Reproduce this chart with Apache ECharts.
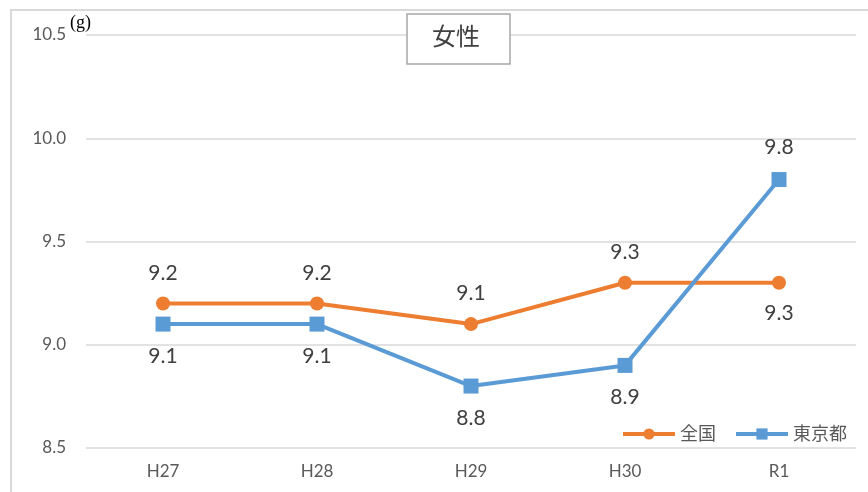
<!DOCTYPE html>
<html><head><meta charset="utf-8">
<script src="https://cdn.jsdelivr.net/npm/echarts@6/dist/echarts.min.js"></script>
<style>html,body{margin:0;padding:0;background:#fff}#c{width:868px;height:492px}</style>
</head><body><div id="c"></div>
<script>
const categories = ['H27','H28','H29','H30','R1'];
const zenkoku = [9.2, 9.2, 9.1, 9.3, 9.3];
const tokyo = [9.1, 9.1, 8.8, 8.9, 9.8];
const zenkokuLabelPos = ['top','top','top','top','bottom'];
const tokyoLabelPos = ['bottom','bottom','bottom','bottom','top'];
const yTicks = [8.5, 9.0, 9.5, 10.0, 10.5];

const chart = echarts.init(document.getElementById('c'));
const font = 'Lato, "Noto Sans CJK JP", sans-serif';
function mk(vals, pos) {
  return vals.map((v, i) => ({ value: v, label: { position: pos[i] } }));
}
chart.setOption({
  animation: false,
  grid: { left: 86, right: 12, top: 35, bottom: 44, containLabel: false },
  graphic: [
    { type: 'rect', shape: { x: 11, y: 10, width: 900, height: 520 }, style: { fill: 'none', stroke: '#d9d9d9', lineWidth: 2 }, z: -1 },
    { type: 'rect', shape: { x: 407, y: 14, width: 103, height: 50 }, style: { fill: '#fff', stroke: '#a6a6a6', lineWidth: 1.5 }, z: 10 },
    { type: 'text', left: 432, top: 24, style: { text: '女性', fill: '#404040', font: '24px "Noto Sans CJK JP"' }, z: 11 },
    { type: 'text', left: 70, top: 14, style: { text: '(g)', fill: '#000', font: '18px "Liberation Serif", serif' }, z: 11 }
  ],
  legend: {
    right: 16, top: 420, itemWidth: 52, itemHeight: 14, itemGap: 18,
    lineStyle: { width: 4 },
    textStyle: { fontSize: 18, color: '#595959', fontFamily: font },
    data: ['全国', '東京都']
  },
  xAxis: {
    type: 'category', data: categories, boundaryGap: true,
    axisLine: { show: false }, axisTick: { show: false },
    axisLabel: { fontSize: 17, color: '#595959', fontFamily: font, margin: 15 }
  },
  yAxis: {
    type: 'value', min: 8.5, max: 10.5, interval: 0.5,
    axisLine: { show: false }, axisTick: { show: false },
    splitLine: { lineStyle: { color: '#d9d9d9', width: 1.5 } },
    axisLabel: { fontSize: 17, color: '#595959', fontFamily: font, margin: 20,
      formatter: v => yTicks.includes(+v.toFixed(1)) ? v.toFixed(1) : '' }
  },
  series: [
    { name: '全国', type: 'line', data: mk(zenkoku, zenkokuLabelPos), symbol: 'circle', symbolSize: 14,
      lineStyle: { color: '#ED7D31', width: 4 }, itemStyle: { color: '#ED7D31' },
      label: { show: true, fontSize: 21, color: '#404040', fontFamily: font, distance: 13, formatter: p => p.value.toFixed(1) } },
    { name: '東京都', type: 'line', data: mk(tokyo, tokyoLabelPos), symbol: 'rect', symbolSize: 15,
      lineStyle: { color: '#5B9BD5', width: 4 }, itemStyle: { color: '#5B9BD5' },
      label: { show: true, fontSize: 21, color: '#404040', fontFamily: font, distance: 14, formatter: p => p.value.toFixed(1) } }
  ]
});
</script></body></html>
